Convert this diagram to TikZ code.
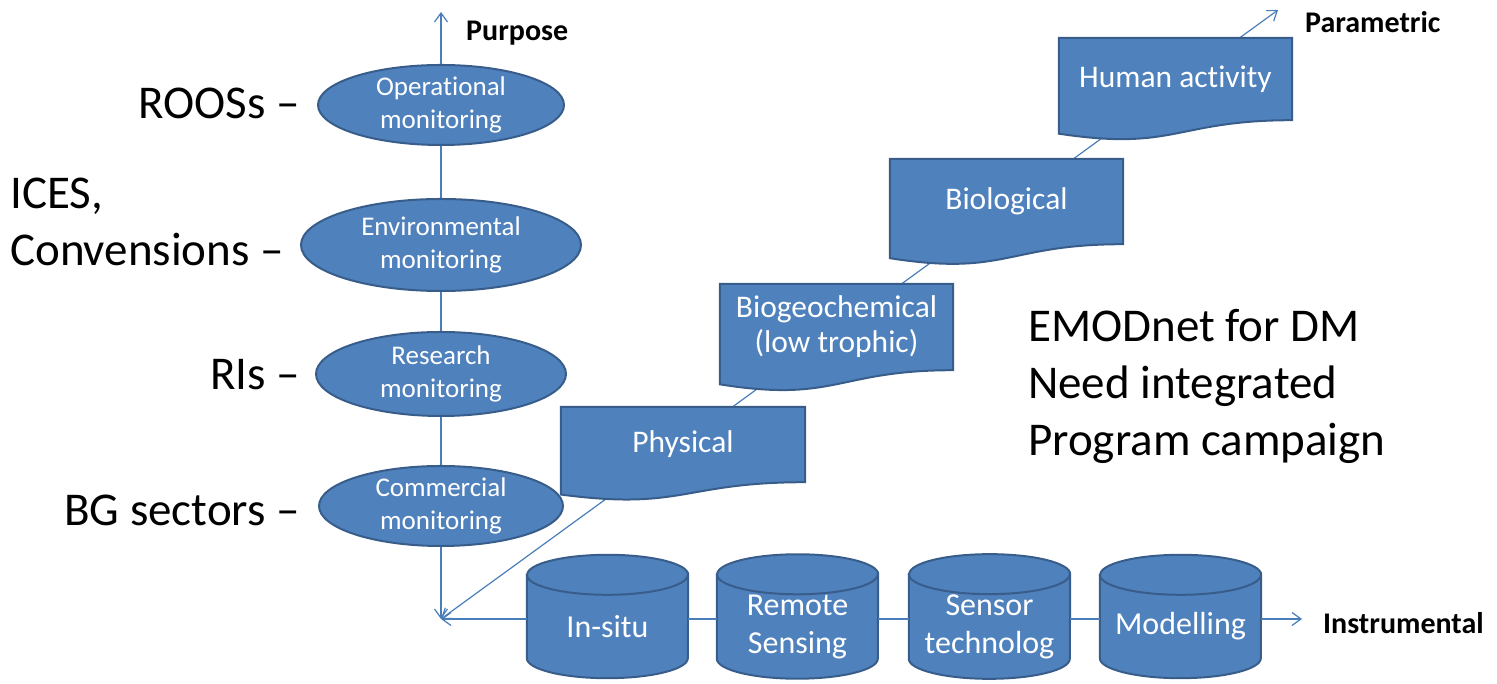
\documentclass[tikz,border=0pt]{standalone}
\usepackage{fontspec}
\setmainfont{Carlito}[Ligatures=NoCommon]
\usetikzlibrary{shapes.geometric,arrows.meta,backgrounds}

\definecolor{boxblue}{HTML}{4F81BD}
\definecolor{boxrim}{HTML}{385D8A}
\definecolor{axisblue}{HTML}{4A7EBB}

\tikzset{
  axis/.style={draw=axisblue, line width=1.2pt},
  shapefill/.style={fill=boxblue, draw=boxrim, line width=2pt},
  monitor/.style={ellipse, shapefill, text=white, align=center, inner sep=0pt,
    font=\fontsize{27}{33}\selectfont},
  paramdoc/.style={rectangle, text=white, align=center, inner sep=0pt,
    font=\fontsize{31.5}{35}\selectfont},
  instrument/.style={rectangle, minimum width=161pt, minimum height=63pt,
    text=white, align=center, inner sep=0pt, font=\fontsize{32}{38}\selectfont},
  bigtext/.style={inner sep=0pt, font=\fontsize{47}{57}\selectfont},
  axislabel/.style={inner sep=0pt, font=\bfseries\fontsize{30}{36}\selectfont}
}

\begin{document}
\begin{tikzpicture}[x=1pt, y=1pt, >={Straight Barb[length=9pt,width=13pt]}]
  \useasboundingbox (0,0) rectangle (1497,684);

  % axis ends
  \coordinate (O) at (441,65);
  \coordinate (top) at (441,672);
  \coordinate (right) at (1302,65);
  \coordinate (diag) at (1278,674);

  % purpose
  \node[monitor, minimum width=246pt, minimum height=80pt] (op) at (441,579) {Operational\\monitoring};
  \node[monitor, minimum width=280pt, minimum height=92pt] (env) at (441,439) {Environmental\\monitoring};
  \node[monitor, minimum width=250pt, minimum height=84pt] (res) at (441,310) {Research\\monitoring};
  \node[monitor, minimum width=244pt, minimum height=80pt] (com) at (441,178) {Commercial\\monitoring};

  \node[bigtext, anchor=east] (roos) at (300,581) {ROOSs –};
  \node[bigtext, anchor=west, align=left] (ices) at (10,462) {ICES,\\Convensions –};
  \node[bigtext, anchor=east] (ris) at (300,309) {RIs –};
  \node[bigtext, anchor=east] (bgs) at (300,174) {BG sectors –};

  % parametric
  \node[paramdoc, minimum width=244pt, minimum height=75pt] (phys) at (683,239.5) {Physical};
  \node[paramdoc, minimum width=233pt, minimum height=86pt] (biogeo) at (836.5,357) {Biogeochemical\\(low trophic)};
  \node[paramdoc, minimum width=233pt, minimum height=85pt] (bio) at (1006.5,482.5) {Biological};
  \node[paramdoc, minimum width=233pt, minimum height=82pt] (human) at (1175.5,605) {Human activity};

  % instrumental
  \node[instrument] (insitu) at (607.5,57.5) {In-situ};
  \node[instrument] (remote) at (797.5,57.5) {Remote\\Sensing};
  \node[instrument] (sensor) at (989.5,57.5) {Sensor\\technolog};
  \node[instrument] (model) at (1180.5,57.5) {Modelling};

  \node[axislabel, anchor=base west] (purp) at (466,643) {Purpose};
  \node[axislabel, anchor=base west] (para) at (1305,651) {Parametric};
  \node[axislabel, anchor=base west] (inst) at (1323,50) {Instrumental};

  \node[bigtext, anchor=west, align=left] (emod) at (1028,298) {EMODnet for DM\\Need integrated\\Program campaign};

  \path[axis]
    (op) edge[->] (top)
    (op) edge (env)
    (env) edge (res)
    (res) edge (com)
    (com) edge[->] (O)
    (O -| insitu.west) edge[->] (O)
    (O -| insitu.east) edge (O -| remote.west)
    (O -| remote.east) edge (O -| sensor.west)
    (O -| sensor.east) edge (O -| model.west)
    (O -| model.east) edge[->] (right);

  \begin{scope}[on background layer]
    \draw[axis,<->] (O) -- (diag);
    \foreach \n/\h in {phys/75,biogeo/86,bio/85,human/82}
      \filldraw[shapefill] (\n.north west) -- (\n.north east) -- (\n.south east)
        .. controls (\n.south) and ([yshift=-0.381*\h]\n.south) .. ([yshift=-0.1645*\h]\n.south west) -- cycle;
    \foreach \n in {insitu,remote,sensor,model} {
      \filldraw[shapefill] ([yshift=20pt]\n.north west) -- (\n.south west)
        arc[start angle=180, end angle=360, x radius=80.5, y radius=20] -- ([yshift=20pt]\n.north east)
        arc[start angle=0, end angle=180, x radius=80.5, y radius=20] -- cycle;
      \draw[shapefill, fill=none] ([yshift=20pt]\n.north west)
        arc[start angle=180, end angle=360, x radius=80.5, y radius=20];
    }
  \end{scope}
\end{tikzpicture}
\end{document}
